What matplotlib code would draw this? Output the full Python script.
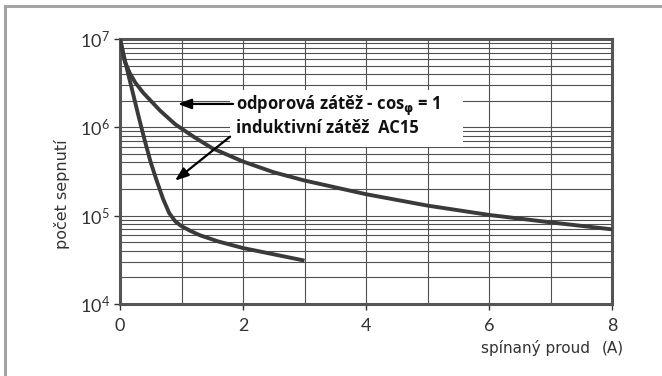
"""Relay contact life vs. switched current (log chart)."""

import math

import matplotlib

matplotlib.use("Agg")
import matplotlib.pyplot as plt
from matplotlib.lines import Line2D
from matplotlib.patches import Rectangle
from matplotlib.ticker import FixedLocator, FuncFormatter, LogLocator, NullFormatter

# odporova zatez (resistive load)
res_current = [0, 0.08, 0.16, 0.25, 0.38, 0.5, 0.65, 0.9, 1.2, 1.5, 2.0, 2.5, 3.0, 4.0, 5.0, 6.0, 7.0, 8.0]
res_cycles = [1e7, 5.5e6, 4.1e6, 3.2e6, 2.45e6, 2.0e6, 1.55e6, 1.08e6, 7.8e5, 5.8e5, 4.1e5,
              3.1e5, 2.5e5, 1.75e5, 1.3e5, 1.02e5, 8.4e4, 7.0e4]

# induktivni zatez AC15
ind_current = [0, 0.05, 0.1, 0.2, 0.3, 0.4, 0.5, 0.6, 0.7, 0.8, 0.9, 1.0, 1.15, 1.3, 1.6, 2.0, 2.5, 3.0]
ind_cycles = [1e7, 7e6, 5e6, 2.6e6, 1.35e6, 7.2e5, 4.0e5, 2.45e5, 1.55e5, 1.07e5, 8.6e4, 7.6e4,
              6.7e4, 6.0e4, 5.1e4, 4.3e4, 3.65e4, 3.1e4]

x_ticks = [0, 2, 4, 6, 8]
x_minor = [1, 3, 5, 7]
y_decades = [1e4, 1e5, 1e6, 1e7]

label_res = r"odporová zátěž - cos$_{\mathbf{\varphi}}$ = 1"
label_ind = "induktivní zátěž  AC15"

W, H = 662, 376
fig = plt.figure(figsize=(W / 100, H / 100), dpi=100)
ax = fig.add_axes([120 / W, 1 - 304 / H, 492 / W, 265 / H])

ax.set_yscale("log")
ax.set_xlim(0, 8)
ax.set_ylim(1e4, 1e7)
ax.xaxis.set_major_locator(FixedLocator(x_ticks))
ax.xaxis.set_minor_locator(FixedLocator(x_minor))
ax.yaxis.set_major_locator(FixedLocator(y_decades))
ax.yaxis.set_minor_locator(LogLocator(base=10, subs=range(2, 10)))
ax.yaxis.set_minor_formatter(NullFormatter())
ax.yaxis.set_major_formatter(FuncFormatter(lambda v, p: r"$\mathregular{10^{%d}}$" % round(math.log10(v))))

ax.set_axisbelow(True)
ax.grid(which="both", color="#505050", lw=0.8)
ax.tick_params(which="minor", length=0)
ax.tick_params(which="major", direction="out", length=4, width=1, color="#333333",
               labelsize=13, labelcolor="#333333")
ax.tick_params(axis="x", pad=6)
for lab in ax.get_xticklabels() + ax.get_yticklabels():
    lab.set_family("Lato")
for lab in ax.get_yticklabels():
    lab.set_va("center_baseline")
for s in ax.spines.values():
    s.set_linewidth(2.2)
    s.set_color("#555555")

# white box behind the notes
ax.add_patch(Rectangle((1.79, 5.98e5), 3.79, 2.65e6 - 5.98e5, facecolor="white",
                       edgecolor="none", zorder=1))

ax.plot(res_current, res_cycles, color="#3a3a3a", lw=2.8, zorder=3, solid_capstyle="butt")
ax.plot(ind_current, ind_cycles, color="#3a3a3a", lw=2.8, zorder=3, solid_capstyle="butt")

arrow = dict(arrowstyle="-|>,head_length=0.8,head_width=0.3", color="black", lw=1.6,
             shrinkA=0, shrinkB=0)
ax.annotate("", xy=(0.94, 1.84e6), xytext=(1.84, 1.84e6), arrowprops=arrow, zorder=4)
ax.annotate("", xy=(0.894, 2.49e5), xytext=(1.79, 7.84e5), arrowprops=arrow, zorder=4)

ax.text(1.886, 1.57e6, label_res, fontsize=12, fontweight="bold", family="Open Sans",
        va="baseline", ha="left", color="#111111", zorder=5)
ax.text(1.886, 8.55e5, label_ind, fontsize=12, fontweight="bold", family="Open Sans",
        va="baseline", ha="left", color="#111111", zorder=5)

fig.text(62 / W, 1 - 194 / H, "počet sepnutí", rotation=90, ha="center", va="center",
         fontsize=11.5, family="DejaVu Sans", color="#333333")
fig.text(590 / W, 1 - 348 / H, "spínaný proud", ha="right", va="center",
         fontsize=11, family="DejaVu Sans", color="#333333")
fig.text(624 / W, 1 - 348 / H, "(A)", ha="right", va="center",
         fontsize=11, family="DejaVu Sans", color="#333333")

# grey page frame (top and left edges)
fig.add_artist(Line2D([5 / W, 1], [1 - 5.5 / H, 1 - 5.5 / H], transform=fig.transFigure,
                      color="#a3a3a3", lw=2.2))
fig.add_artist(Line2D([5 / W, 5 / W], [0, 1 - 5.5 / H], transform=fig.transFigure,
                      color="#a3a3a3", lw=2.2))

fig.savefig("out.png", dpi=100)
